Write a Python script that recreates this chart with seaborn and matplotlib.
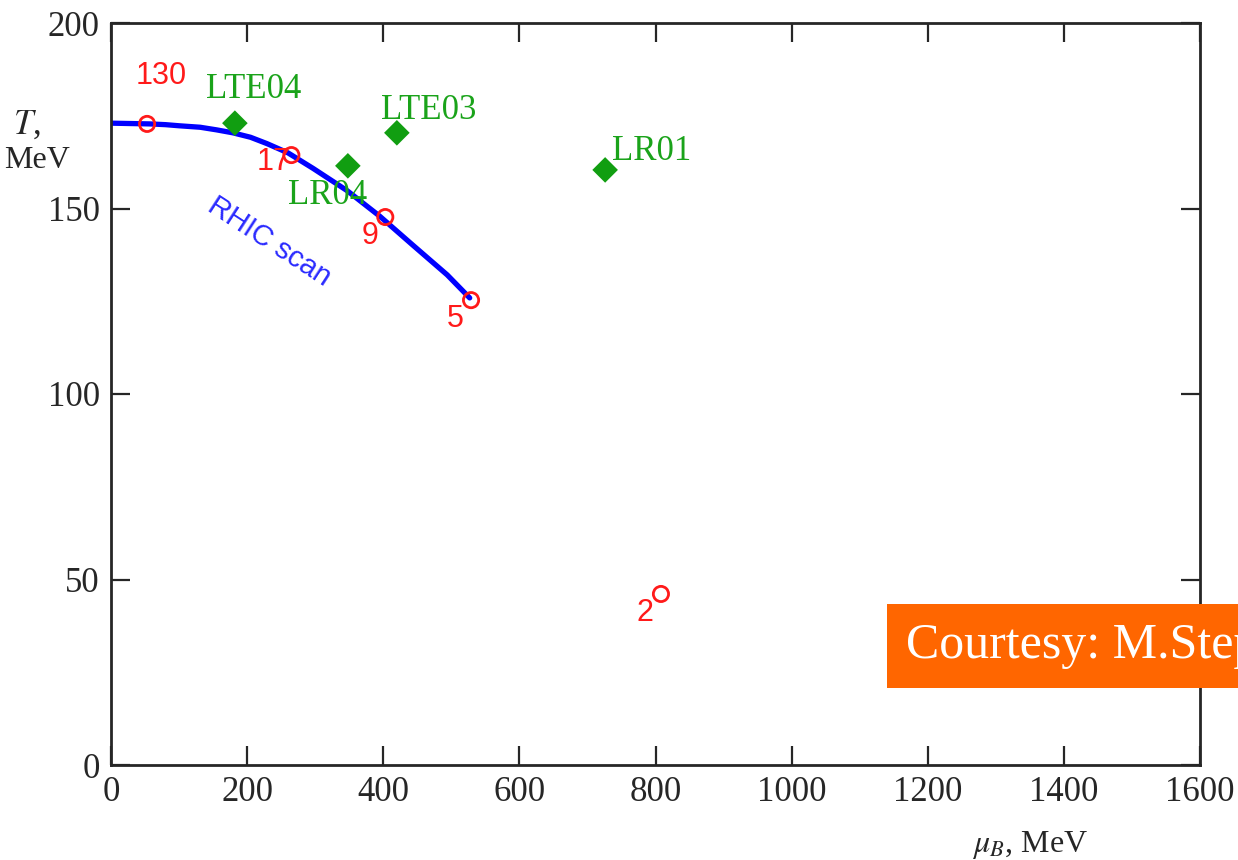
import matplotlib
matplotlib.use("Agg")
import matplotlib.pyplot as plt
import seaborn as sns

# RHIC scan freeze-out points (red circles)
rhic_energy = ["130", "17", "9", "5", "2"]
rhic_mu = [53, 265, 403, 529, 808]
rhic_T = [172.8, 164.4, 147.7, 125.3, 46.1]

# lattice points (green diamonds)
lat_names = ["LTE04", "LR04", "LTE03", "LR01"]
lat_mu = [182, 348, 420, 726]
lat_T = [173.0, 161.5, 170.4, 160.4]

# RHIC scan curve
curve_mu = [0, 57, 80, 100, 131, 155, 179, 205, 229, 260, 297, 347, 395, 443, 494, 527]
curve_T = [173.0, 172.8, 172.6, 172.3, 171.9, 171.2, 170.4, 169.2, 167.5, 165.0,
           160.8, 154.8, 147.9, 140.2, 132.1, 125.9]

sns.set_style("ticks")
plt.rcParams["font.family"] = ["Liberation Serif", "DejaVu Serif"]
plt.rcParams["mathtext.fontset"] = "stix"

fig = plt.figure(figsize=(12.38, 8.6), dpi=100)
ax = fig.add_axes([111 / 1238, 1 - 765 / 860, 1089 / 1238, 742 / 860])

sns.lineplot(x=curve_mu, y=curve_T, ax=ax, color="#0000ff", linewidth=3.8,
             sort=False, zorder=2)
sns.scatterplot(x=rhic_mu, y=rhic_T, ax=ax, marker="o", s=120,
                facecolor="none", edgecolor="#ff1a1a", linewidth=2.0, zorder=3)
sns.scatterplot(x=lat_mu, y=lat_T, ax=ax, marker="D", s=170,
                color="#119e11", edgecolor="none", zorder=3)

# red energy labels
red_off = [(14, 13), (-18, -2), (-15, -5), (-16, -5), (-16, -5)]
for name, x, y, (dx, dy) in zip(rhic_energy, rhic_mu, rhic_T, red_off):
    ax.text(x + dx * 1.47, y + dy, name, color="#ff1a1a", fontsize=22,
            family=["Liberation Sans", "DejaVu Sans"], ha="center", va="center")

# green lattice labels
green_off = [(27, 9), (-30, -8), (47, 6), (69, 5)]
for name, x, y, (dx, dy) in zip(lat_names, lat_mu, lat_T, green_off):
    ax.text(x + dx, y + dy, name, color="#1aa31a", fontsize=25,
            ha="center", va="center")

ax.text(232, 141, "RHIC scan", color="#2a2aff", fontsize=21, rotation=-33,
        family=["Liberation Sans", "DejaVu Sans"], ha="center", va="center")

ax.set_xlim(0, 1600)
ax.set_ylim(0, 200)
ax.set_xticks(range(0, 1601, 200))
ax.set_yticks(range(0, 201, 50))
ax.tick_params(direction="in", length=14, width=1.6, labelsize=25,
               top=True, right=True, pad=8)
for sp in ax.spines.values():
    sp.set_linewidth(2)
    sp.set_visible(True)

fig.text(27 / 1238, 1 - 125 / 860, "$T$,", fontsize=25, ha="center", va="center")
fig.text(37 / 1238, 1 - 160 / 860, "MeV", fontsize=23, ha="center", va="center")
fig.text(1030 / 1238, 1 - 845 / 860, r"$\mu_B$, MeV", fontsize=23,
         ha="center", va="center")

fig.text(906 / 1238, 1 - 646 / 860, "Courtesy: M.Stephanov", color="white",
         fontsize=36, ha="left", va="center",
         bbox=dict(boxstyle="square,pad=0.38", facecolor="#ff6600",
                   edgecolor="none"))

fig.savefig("out.png", dpi=100)
